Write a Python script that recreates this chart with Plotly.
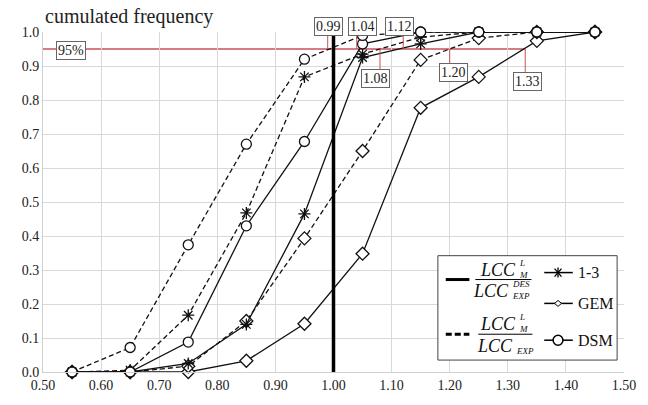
import plotly.graph_objects as go

# ---------------- data ----------------
x_vals = [0.55, 0.65, 0.75, 0.85, 0.95, 1.05, 1.15, 1.25, 1.35, 1.45]
s13_des = [0, 0, 0.025, 0.14, 0.465, 0.925, 0.965, 1.0, 1.0, 1.0]
s13_exp = [0, 0.005, 0.167, 0.468, 0.868, 0.935, 0.985, 1.0, 1.0, 1.0]
gem_des = [0, 0, 0, 0.033, 0.142, 0.348, 0.777, 0.868, 0.974, 1.0]
gem_exp = [0, 0, 0.017, 0.15, 0.393, 0.65, 0.918, 0.982, 1.0, 1.0]
dsm_des = [0, 0, 0.088, 0.43, 0.678, 0.965, 1.0, 1.0, 1.0, 1.0]
dsm_exp = [0, 0.072, 0.374, 0.67, 0.92, 0.99, 1.0, 1.0, 1.0, 1.0]

x_ticks = [0.5, 0.6, 0.7, 0.8, 0.9, 1.0, 1.1, 1.2, 1.3, 1.4, 1.5]
y_ticks = [0.0, 0.1, 0.2, 0.3, 0.4, 0.5, 0.6, 0.7, 0.8, 0.9, 1.0]

level = 0.95
crossings_above = [0.99, 1.04, 1.12]
crossings_below = [1.08, 1.20, 1.33]

FONT = "Liberation Serif, Times New Roman, DejaVu Serif, serif"
RED = "#c9505a"

# pixel helpers (plot area: x 43..633, y 32..374)
def px_x(p):
    return 0.5 + (p - 43) / 590.0

def px_px(p):  # paper x
    return (p - 43) / 590.0

def px_y(p):
    return (374 - p) / 342.0

fig = go.Figure()

def add_series(y, dash, symbol, size, name):
    fig.add_trace(go.Scatter(
        x=x_vals, y=y, mode="lines+markers", name=name, showlegend=False,
        cliponaxis=False,
        line=dict(color="#111", width=1.3, dash=dash),
        marker=dict(symbol=symbol, size=size,
                    color="white" if "asterisk" not in symbol else "#111",
                    line=dict(color="#111", width=1.3)),
    ))

DASH = "5px,3px"
add_series(gem_des, "solid", "diamond", 10, "GEM")
add_series(gem_exp, DASH, "diamond", 10, "GEM")
add_series(s13_des, "solid", "asterisk-open", 10, "1-3")
add_series(s13_exp, DASH, "asterisk-open", 10, "1-3")
add_series(dsm_des, "solid", "circle", 10, "DSM")
add_series(dsm_exp, DASH, "circle", 10, "DSM")

shapes = []
annotations = []

# 95% line
shapes.append(dict(type="line", xref="x", yref="y", x0=0.5, x1=1.33, y0=level, y1=level,
                   line=dict(color=RED, width=1.5), layer="below"))
# vertical reference line at 1.00
shapes.append(dict(type="line", xref="x", yref="y", x0=1.0, x1=1.0, y0=0, y1=1.0,
                   line=dict(color="#000", width=3.5)))

box = dict(bordercolor="#666", borderwidth=1, bgcolor="white", borderpad=1,
           font=dict(family=FONT, size=14, color="#222"))

label_pos_above = [(333, 17), (367, 17), (405, 17)]
for v, (bx, by) in zip(crossings_above, label_pos_above):
    shapes.append(dict(type="line", xref="x", yref="paper", x0=v, x1=v, y0=level, y1=px_y(by + 8),
                       line=dict(color=RED, width=1)))
    annotations.append(dict(x=px_px(bx), y=px_y(by), xref="paper", yref="paper", text=f"{v:.2f}",
                            showarrow=False, **box))
label_pos_below = [(381, 79), (460, 73), (535, 82)]
for v, (bx, by) in zip(crossings_below, label_pos_below):
    shapes.append(dict(type="line", xref="x", yref="y", x0=v, x1=v, y0=level, y1=px_y(by - 8),
                       line=dict(color=RED, width=1)))
    annotations.append(dict(x=px_x(bx), y=px_y(by), xref="x", yref="y", text=f"{v:.2f}",
                            showarrow=False, **box))
annotations.append(dict(x=px_x(71), y=px_y(51), xref="x", yref="y", text="95%",
                        showarrow=False, **box))

# ---------------- manual legend ----------------
shapes.append(dict(type="rect", xref="x", yref="y", x0=px_x(444), x1=px_x(626),
                   y0=px_y(257), y1=px_y(362), line=dict(color="#444", width=1),
                   fillcolor="white", layer="above"))
# line keys
shapes.append(dict(type="line", xref="x", yref="y", x0=px_x(452), x1=px_x(476),
                   y0=px_y(281), y1=px_y(281), line=dict(color="#000", width=3)))
shapes.append(dict(type="line", xref="x", yref="y", x0=px_x(452), x1=px_x(476),
                   y0=px_y(336), y1=px_y(336), line=dict(color="#000", width=3, dash="6px,3px")))
# fraction bars
shapes.append(dict(type="line", xref="x", yref="y", x0=px_x(482), x1=px_x(539),
                   y0=px_y(281), y1=px_y(281), line=dict(color="#000", width=1)))
shapes.append(dict(type="line", xref="x", yref="y", x0=px_x(485), x1=px_x(540),
                   y0=px_y(336), y1=px_y(336), line=dict(color="#000", width=1)))

def txt(px, py, t, size, anchor="left"):
    annotations.append(dict(x=px_x(px), y=px_y(py), xref="x", yref="y", text=t,
                            showarrow=False, xanchor=anchor, yanchor="middle",
                            font=dict(family=FONT, size=size, color="#111")))

# fraction 1
txt(525, 271, "<i>LCC</i>", 18, "right")
txt(524, 264, "<i>L</i>", 9)
txt(524, 276, "<i>M</i>", 9)
txt(518, 293, "<i>LCC</i>", 18, "right")
txt(517, 285, "<i>DES</i>", 9)
txt(517, 298, "<i>EXP</i>", 9)
# fraction 2
txt(525, 326, "<i>LCC</i>", 18, "right")
txt(524, 319, "<i>L</i>", 9)
txt(524, 331, "<i>M</i>", 9)
txt(522, 348, "<i>LCC</i>", 18, "right")
txt(521, 353, "<i>EXP</i>", 9)

# series keys
for py, lbl in [(274, "1-3"), (305, "GEM"), (342, "DSM")]:
    shapes.append(dict(type="line", xref="x", yref="y", x0=px_x(552), x1=px_x(581),
                       y0=px_y(py), y1=px_y(py), line=dict(color="#000", width=1.5)))
    txt(584, py, lbl, 16)
# star
cx, cy = 566, 274
for dx, dy in [(3.5, 4), (0, 5), (3.5, -4)]:
    shapes.append(dict(type="line", xref="x", yref="y", x0=px_x(cx - dx), x1=px_x(cx + dx),
                       y0=px_y(cy - dy), y1=px_y(cy + dy), line=dict(color="#000", width=1.3)))
# diamond
cx, cy = 566, 305
shapes.append(dict(type="path", xref="x", yref="y",
                   path=f"M {px_x(cx-3.5)},{px_y(cy)} L {px_x(cx)},{px_y(cy-3)} L {px_x(cx+3.5)},{px_y(cy)} L {px_x(cx)},{px_y(cy+3)} Z",
                   fillcolor="white", line=dict(color="#000", width=1)))
# circle
cx, cy = 566, 342
shapes.append(dict(type="circle", xref="x", yref="y", x0=px_x(cx - 5), x1=px_x(cx + 5),
                   y0=px_y(cy + 5), y1=px_y(cy - 5), fillcolor="white",
                   line=dict(color="#000", width=1.5)))

# title
annotations.append(dict(x=0, y=1, xref="paper", yref="paper", xanchor="left", yanchor="bottom",
                        xshift=0, yshift=2, text="cumulated frequency", showarrow=False,
                        font=dict(family=FONT, size=20, color="#222")))

fig.update_layout(
    width=648, height=405,
    margin=dict(l=43, r=15, t=32, b=31),
    paper_bgcolor="white", plot_bgcolor="white",
    shapes=shapes, annotations=annotations,
    font=dict(family=FONT, size=14, color="#222"),
    xaxis=dict(range=[0.5, 1.5], tickvals=x_ticks, ticktext=[f"{v:.2f}" for v in x_ticks],
               showgrid=True, gridcolor="#d9d9d9", gridwidth=1, zeroline=False,
               showline=True, linecolor="#d0d0d0", ticks="", tickfont=dict(size=14)),
    yaxis=dict(range=[0, 1.0], tickvals=y_ticks, ticktext=[f"{v:.1f}" for v in y_ticks],
               showgrid=True, gridcolor="#d9d9d9", gridwidth=1, zeroline=False,
               showline=True, linecolor="#d0d0d0", ticks="", tickfont=dict(size=14)),
)

fig.write_html("out.html")
